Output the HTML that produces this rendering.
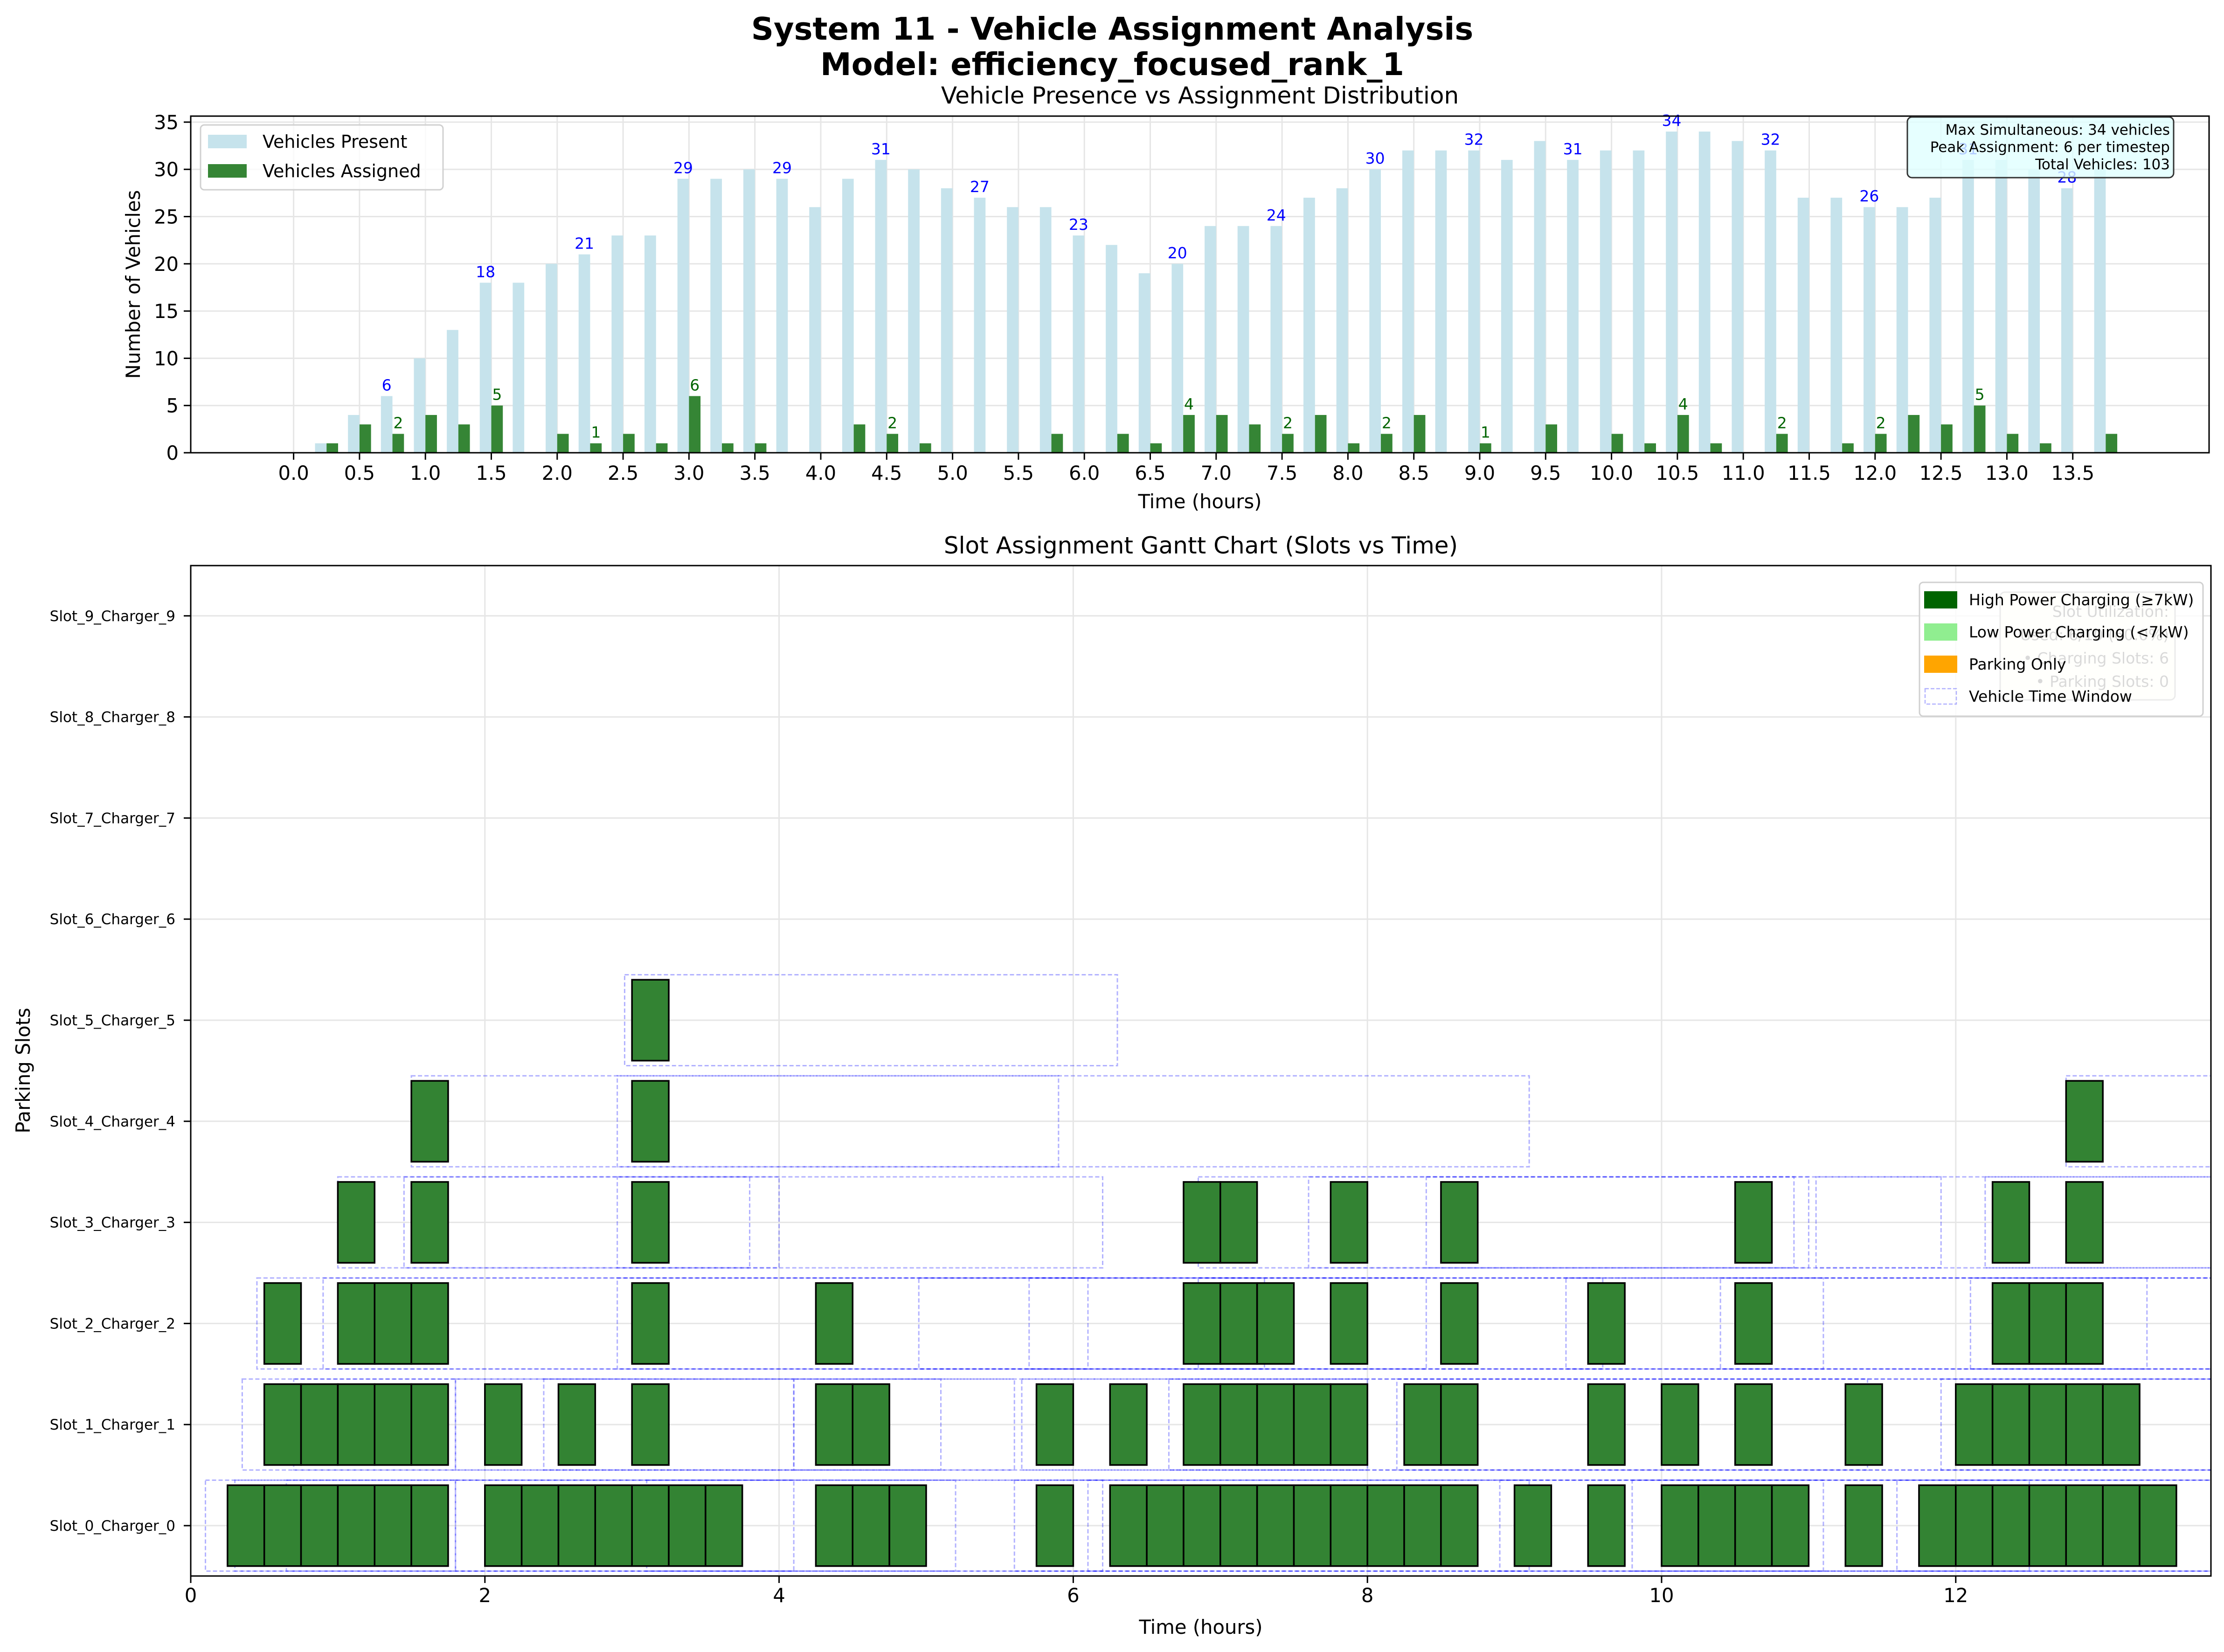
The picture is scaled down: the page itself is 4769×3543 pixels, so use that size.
<!DOCTYPE html>
<html><head><meta charset="utf-8">
<style>
html,body{margin:0;padding:0;background:#fff;}
svg{display:block;font-family:"DejaVu Sans","Liberation Sans",sans-serif;}
</style></head>
<body>
<svg id="fig" xmlns="http://www.w3.org/2000/svg" width="4769" height="3543" viewBox="0 0 4769 3543">
<rect x="0" y="0" width="4769" height="3543" fill="#fff"/>
<text x="2385" y="85" font-size="67" font-weight="bold" text-anchor="middle">System 11 - Vehicle Assignment Analysis</text>
<text x="2385" y="161" font-size="67" font-weight="bold" text-anchor="middle">Model: efficiency_focused_rank_1</text>
<g id="topchart"></g>
<g id="ganttchart"></g>
</svg>
<script>
// ---- top chart data ----
const timeLabels = ["0.0","0.5","1.0","1.5","2.0","2.5","3.0","3.5","4.0","4.5","5.0","5.5","6.0","6.5","7.0","7.5","8.0","8.5","9.0","9.5","10.0","10.5","11.0","11.5","12.0","12.5","13.0","13.5"];
const presentCounts = [0,1,4,6,10,13,18,18,20,21,23,23,29,29,30,29,26,29,31,30,28,27,26,26,23,22,19,20,24,24,24,27,28,30,32,32,32,31,33,31,32,32,34,34,33,32,27,27,26,26,27,31,31,30,28,30];
const assignedCounts = [0,1,3,2,4,3,5,0,2,1,2,1,6,1,1,0,0,3,2,1,0,0,0,2,0,2,1,4,4,3,2,4,1,2,4,0,1,0,3,0,2,1,4,1,0,2,0,1,2,4,3,5,2,1,0,2];
const yTicksTop = [0,5,10,15,20,25,30,35];
const statsLines = ["Max Simultaneous: 34 vehicles","Peak Assignment: 6 per timestep","Total Vehicles: 103"];

// ---- gantt data ----
const slotNames = ["Slot_0_Charger_0","Slot_1_Charger_1","Slot_2_Charger_2","Slot_3_Charger_3","Slot_4_Charger_4","Slot_5_Charger_5","Slot_6_Charger_6","Slot_7_Charger_7","Slot_8_Charger_8","Slot_9_Charger_9"];
const slot0Starts = [0.25,0.5,0.75,1,1.25,1.5,2,2.25,2.5,2.75,3,3.25,3.5,4.25,4.5,4.75,5.75,6.25,6.5,6.75,7,7.25,7.5,7.75,8,8.25,8.5,9,9.5,10,10.25,10.5,10.75,11.25,11.75,12,12.25,12.5,12.75,13,13.25];
const slot1Starts = [0.5,0.75,1,1.25,1.5,2,2.5,3,4.25,4.5,5.75,6.25,6.75,7,7.25,7.5,7.75,8.25,8.5,9.5,10,10.5,11.25,12,12.25,12.5,12.75,13];
const slot2Starts = [0.5,1,1.25,1.5,3,4.25,6.75,7,7.25,7.75,8.5,9.5,10.5,12.25,12.5,12.75];
const slot3Starts = [1,1.5,3,6.75,7,7.75,8.5,10.5,12.25,12.75];
const slot4Starts = [1.5,3,12.75];
const slot5Starts = [3];
const slotStarts = [slot0Starts,slot1Starts,slot2Starts,slot3Starts,slot4Starts,slot5Starts];
const windowSlots  = [0,0,0,0,0,0,0,0,0,0, 1,1,1,1,1,1,1,1,1, 2,2,2,2,2,2,2,2,2, 3,3,3,3,3,3,3,3, 4,4,4, 5];
const windowStarts = [0.1,0.65,1.8,3.1,5.6,6.1,8.9,11.6,9.8,0.3, 0.35,0.7,1.8,2.4,5.65,6.65,8.2,11.9,4.1, 0.45,0.9,2.9,4.95,6.85,9.35,10.4,12.1,5.7, 1.0,1.45,2.9,6.85,7.6,8.4,11.05,12.2, 1.5,2.9,12.75, 2.95];
const windowEnds   = [6.2,13.75,4.1,5.2,9.1,11.1,13.75,13.75,12.5,1.8, 13.75,1.8,5.1,4.1,8.0,13.75,11.4,13.75,5.6, 13.75,13.75,6.1,7.3,9.6,11.1,13.75,13.3,8.4, 6.2,3.8,4.0,13.75,11.0,10.9,11.9,13.75, 9.1,5.9,13.75, 6.3];
const xTicksGantt = [0,2,4,6,8,10,12];
const utilLines = ["Slot Utilization:","Used: 6/10 (60.0%)","• Charging Slots: 6","• Parking Slots: 0"];

const NS="http://www.w3.org/2000/svg";
function mk(tag, attrs, parent, txt){const e=document.createElementNS(NS,tag);for(const k in attrs)e.setAttribute(k,attrs[k]);if(txt!==undefined)e.textContent=txt;parent.appendChild(e);return e;}

// ===== TOP CHART =====
const topG=document.getElementById('topchart');
const TL=409,TR=4737,TT=249,TB=971;
const STEP=70.65;
const BW=0.35*STEP;
const xi=i=>629.6+STEP*i;
const yv=v=>TB-20.26*v;
let el;
el=mk('text',{x:2573,y:222,'font-size':50,'text-anchor':'middle'},topG,'Vehicle Presence vs Assignment Distribution');


yTicksTop.forEach(v=>{const l=mk('line',{x1:TL,x2:TR,y1:yv(v),y2:yv(v),stroke:'#e6e6e6','stroke-width':3},topG);

});
timeLabels.forEach((lab,k)=>{const x=xi(2*k);const l=mk('line',{x1:x,x2:x,y1:TT,y2:TB,stroke:'#e6e6e6','stroke-width':3},topG);

});
presentCounts.forEach((v,i)=>{if(v<=0)return;const r=mk('rect',{x:xi(i)-BW,y:yv(v),width:BW,height:TB-yv(v),fill:'#c6e3ec'},topG);

});
assignedCounts.forEach((v,i)=>{if(v<=0)return;const r=mk('rect',{x:xi(i),y:yv(v),width:BW,height:TB-yv(v),fill:'#358535'},topG);

});
presentCounts.forEach((v,i)=>{if(i%3!==0||i===0)return;const t=mk('text',{x:xi(i)-BW/2,y:yv(v)-12,'font-size':33,fill:'#0000ff','text-anchor':'middle'},topG,String(v));

});
assignedCounts.forEach((v,i)=>{if(i%3!==0||v<=0)return;const t=mk('text',{x:xi(i)+BW/2,y:yv(v)-12,'font-size':33,fill:'#006400','text-anchor':'middle'},topG,String(v));

});
el=mk('rect',{x:TL,y:TT,width:TR-TL,height:TB-TT,fill:'none',stroke:'#000','stroke-width':3},topG);


yTicksTop.forEach(v=>{mk('line',{x1:TL-15,x2:TL,y1:yv(v),y2:yv(v),stroke:'#000','stroke-width':3},topG);const t=mk('text',{x:TL-26,y:yv(v)+15,'font-size':41.7,'text-anchor':'end'},topG,String(v));

});
timeLabels.forEach((lab,k)=>{const x=xi(2*k);mk('line',{x1:x,x2:x,y1:TB,y2:TB+15,stroke:'#000','stroke-width':3},topG);const t=mk('text',{x:x,y:TB+58,'font-size':41.7,'text-anchor':'middle'},topG,lab);

});
el=mk('text',{x:2573,y:1090,'font-size':41.7,'text-anchor':'middle'},topG,'Time (hours)');


el=mk('text',{x:0,y:0,'font-size':41.7,'text-anchor':'middle',transform:'translate(300,610) rotate(-90)'},topG,'Number of Vehicles');


const lg=mk('g',{},topG);


mk('rect',{x:430,y:268,width:520,height:139,rx:8,fill:'#fff','fill-opacity':0.8,stroke:'#d0d0d0','stroke-width':3},lg);
mk('rect',{x:446,y:289,width:83,height:29,fill:'#c6e3ec'},lg);
mk('text',{x:563,y:317,'font-size':38},lg,'Vehicles Present');
mk('rect',{x:446,y:352,width:83,height:29,fill:'#358535'},lg);
mk('text',{x:563,y:380,'font-size':38},lg,'Vehicles Assigned');
const sb=mk('g',{},topG);


mk('rect',{x:4090,y:251,width:571,height:130,rx:10,fill:'#e0ffff','fill-opacity':0.8,stroke:'#333','stroke-width':3},sb);
statsLines.forEach((s,k)=>{mk('text',{x:4653,y:289+37*k,'font-size':31,'text-anchor':'end'},sb,s);});

// ===== GANTT =====
const ganttG=document.getElementById('ganttchart');
const GL=409,GR=4741,GT=1213,GB=3380;
const HPX=315.4;
const gx=t=>409+HPX*t;
const gy=s=>3272-216.8*s;
el=mk('text',{x:2575,y:1187,'font-size':50,'text-anchor':'middle'},ganttG,'Slot Assignment Gantt Chart (Slots vs Time)');


const cp=mk('clipPath',{id:'gclip'},ganttG);
mk('rect',{x:GL,y:GT,width:GR-GL,height:GB-GT},cp);
xTicksGantt.forEach(t=>{const l=mk('line',{x1:gx(t),x2:gx(t),y1:GT,y2:GB,stroke:'#e6e6e6','stroke-width':3},ganttG);

});
slotNames.forEach((n,s)=>{const l=mk('line',{x1:GL,x2:GR,y1:gy(s),y2:gy(s),stroke:'#e6e6e6','stroke-width':3},ganttG);

});
const plot=mk('g',{'clip-path':'url(#gclip)'},ganttG);
windowStarts.forEach((a,k)=>{const b=windowEnds[k],s=windowSlots[k];const r=mk('rect',{x:gx(a),y:gy(s)-0.45*216.8,width:gx(b)-gx(a),height:0.9*216.8,fill:'none',stroke:'#0000ff','stroke-opacity':0.3,'stroke-width':3,'stroke-dasharray':'9,5'},plot);

});
slotStarts.forEach((arr,s)=>{arr.forEach(t=>{const r=mk('rect',{x:gx(t),y:gy(s)-0.4*216.8,width:0.25*HPX,height:0.8*216.8,fill:'#338333',stroke:'#000','stroke-width':3.5},plot);

});});
el=mk('rect',{x:GL,y:GT,width:GR-GL,height:GB-GT,fill:'none',stroke:'#000','stroke-width':3},ganttG);


xTicksGantt.forEach(t=>{mk('line',{x1:gx(t),x2:gx(t),y1:GB,y2:GB+15,stroke:'#000','stroke-width':3},ganttG);const tx=mk('text',{x:gx(t),y:GB+56,'font-size':41.7,'text-anchor':'middle'},ganttG,String(t));

});
slotNames.forEach((n,s)=>{mk('line',{x1:GL-15,x2:GL,y1:gy(s),y2:gy(s),stroke:'#000','stroke-width':3},ganttG);const tx=mk('text',{x:GL-33,y:gy(s)+11,'font-size':31,'text-anchor':'end'},ganttG,n);

});
el=mk('text',{x:2575,y:3504,'font-size':41.7,'text-anchor':'middle'},ganttG,'Time (hours)');


el=mk('text',{x:0,y:0,'font-size':41.7,'text-anchor':'middle',transform:'translate(64,2296) rotate(-90)'},ganttG,'Parking Slots');


const ub=mk('g',{},ganttG);


mk('rect',{x:4289,y:1270,width:375,height:231,rx:10,fill:'#fffff0',stroke:'#999','stroke-width':3},ub);
utilLines.forEach((s,k)=>{mk('text',{x:4651,y:1323+50*k,'font-size':33,'text-anchor':'end',fill:'#444'},ub,s);});
const gl=mk('g',{},ganttG);


mk('rect',{x:4116,y:1249,width:608,height:287,rx:8,fill:'#fff','fill-opacity':0.8,stroke:'#d0d0d0','stroke-width':3},gl);
const legItems=[['High Power Charging (≥7kW)','#006400'],['Low Power Charging (<7kW)','#90ee90'],['Parking Only','#ffa500'],['Vehicle Time Window',null]];
legItems.forEach((it,k)=>{const cy=1286+69*k;if(it[1])mk('rect',{x:4126,y:cy-18,width:71,height:37,fill:it[1]},gl);else mk('rect',{x:4128,y:cy-16,width:67,height:33,fill:'none',stroke:'#0000ff','stroke-opacity':0.3,'stroke-width':2.5,'stroke-dasharray':'8,4'},gl);mk('text',{x:4222,y:cy+12,'font-size':33},gl,it[0]);});
</script>
</body></html>
